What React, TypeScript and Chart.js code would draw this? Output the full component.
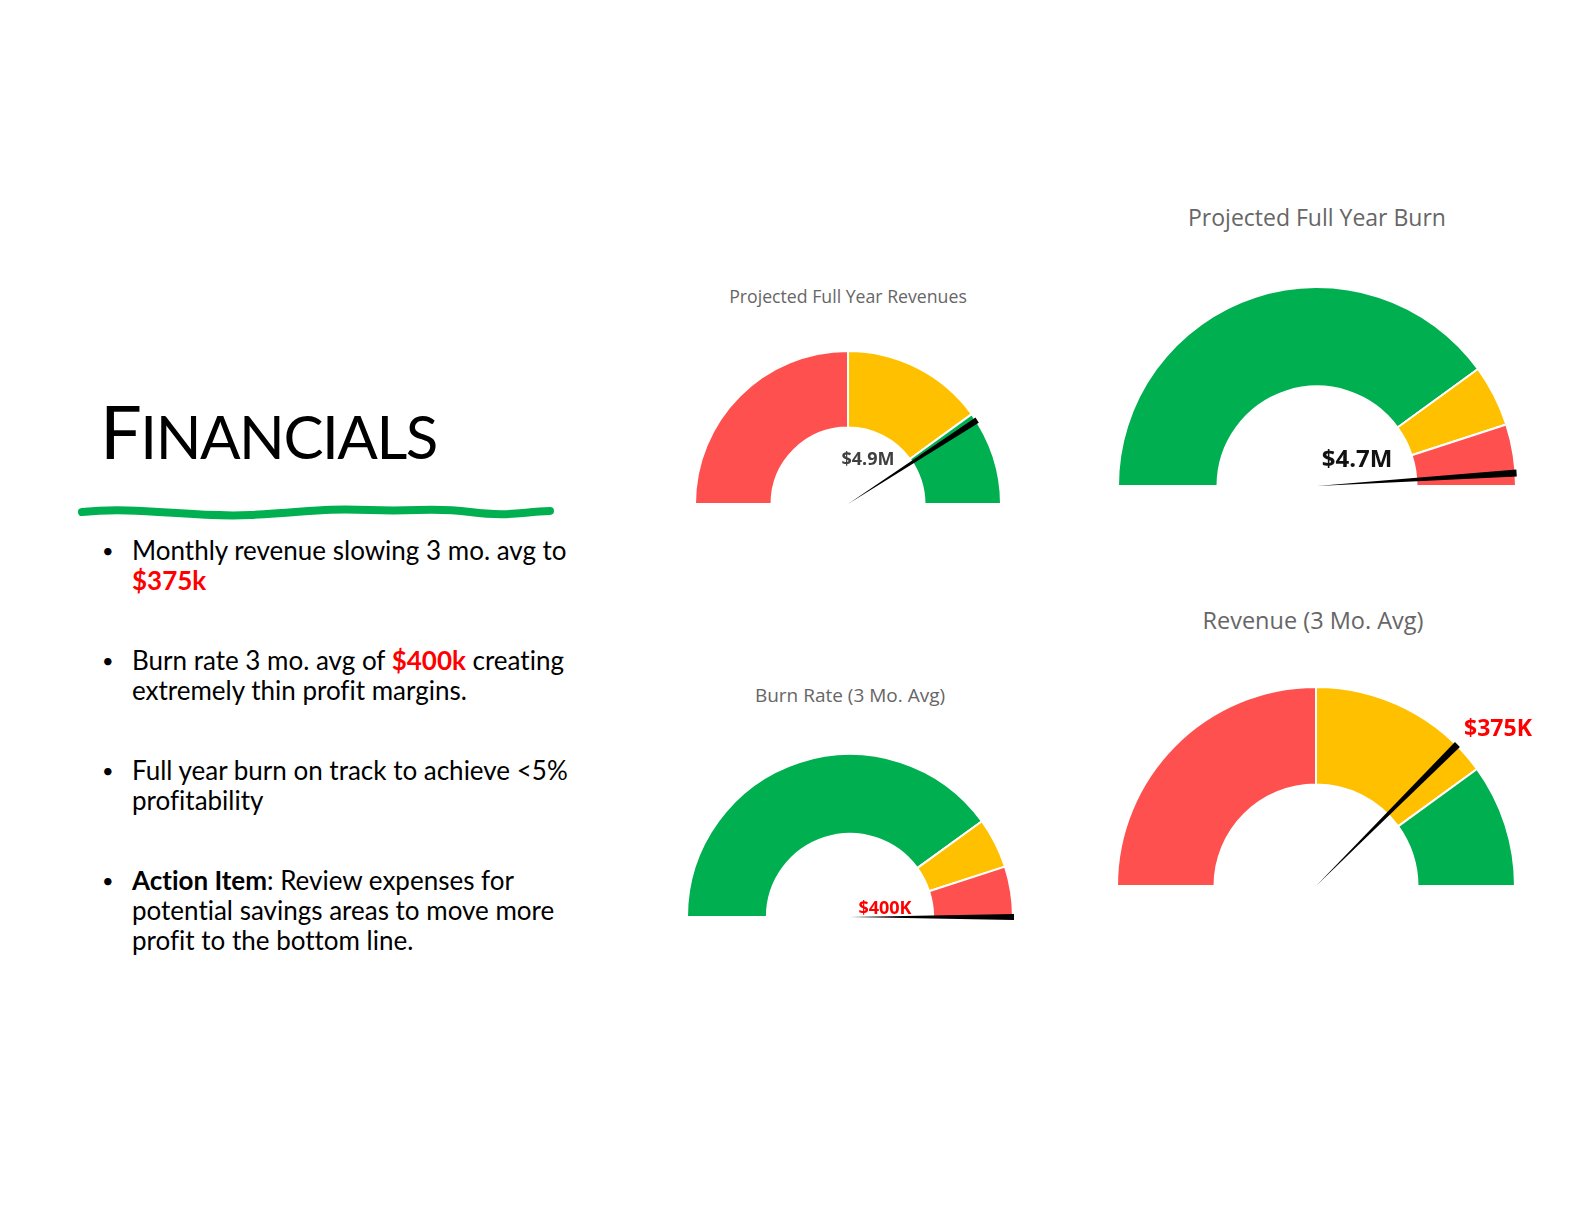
import React, { useEffect, useRef } from "react";
import { Chart, registerables } from "chart.js";

Chart.register(...registerables);

// ---------- data ----------
const gaugeTitles = [
  "Projected Full Year Revenues",
  "Projected Full Year Burn",
  "Burn Rate (3 Mo. Avg)",
  "Revenue (3 Mo. Avg)",
];
// band widths (in each gauge's units), listed left -> right
const revFullYearBands = [3.0, 1.8, 1.2]; // $M: red, yellow, green
const burnFullYearBands = [3.84, 0.48, 0.48]; // $M: green, yellow, red
const burnRateBands = [320, 40, 40]; // $K: green, yellow, red
const revenueAvgBands = [250, 150, 100]; // $K: red, yellow, green
const revBandNames = ["Below target", "Near target", "On target"];
const burnBandNames = ["On target", "Near limit", "Over limit"];
const needleValues = [4.9, 4.7, 400, 375];
const valueLabels = ["$4.9M", "$4.7M", "$400K", "$375K"];

const RED = "#FF5050";
const YELLOW = "#FFC000";
const GREEN = "#00B050";

// ---------- needle plugin ----------
const needlePlugin = {
  id: "needle",
  afterDatasetsDraw(chart: any) {
    const cfg = chart.options.plugins.needle;
    if (!cfg) return;
    const meta = chart.getDatasetMeta(0);
    const arc = meta.data[0];
    const { x, y, outerRadius } = arc.getProps(["x", "y", "outerRadius"], true);
    const data = chart.data.datasets[0].data as number[];
    const total = data.reduce((a: number, b: number) => a + b, 0);
    const frac = cfg.value / total;
    const ang = Math.PI + frac * Math.PI;
    const len = outerRadius + 1;
    const ex = x + Math.cos(ang) * len;
    const ey = y + Math.sin(ang) * len;
    const px = -Math.sin(ang);
    const py = Math.cos(ang);
    const hw = cfg.width / 2;
    const ctx = chart.ctx;
    ctx.save();
    ctx.beginPath();
    ctx.moveTo(x, y);
    ctx.lineTo(ex + px * hw, ey + py * hw);
    ctx.lineTo(ex - px * hw, ey - py * hw);
    ctx.closePath();
    ctx.fillStyle = "#000";
    ctx.fill();
    ctx.font = `bold ${cfg.fontSize}px 'Open Sans', sans-serif`;
    ctx.fillStyle = cfg.color;
    ctx.textAlign = "center";
    ctx.textBaseline = "middle";
    ctx.fillText(cfg.label, x + cfg.dx, y + cfg.dy);
    ctx.restore();
  },
};

type GaugeProps = {
  title: string;
  bands: number[];
  names: string[];
  colors: string[];
  value: number;
  label: string;
  cx: number;
  cy: number;
  R: number;
  cutout: string;
  pad: { left: number; right: number; top: number; bottom: number };
  labelDx: number;
  labelDy: number;
  labelSize: number;
  labelColor: string;
  needleWidth: number;
  titleSize: number;
  titleBaseline: number;
  titleDx: number;
};

function Gauge(p: GaugeProps) {
  const ref = useRef<HTMLCanvasElement>(null);
  useEffect(() => {
    if (!ref.current) return;
    const chart = new Chart(ref.current, {
      type: "doughnut",
      data: {
        labels: p.names,
        datasets: [
          {
            data: p.bands,
            backgroundColor: p.colors,
            borderColor: "#ffffff",
            borderWidth: 2,
          },
        ],
      },
      options: {
        animation: false,
        responsive: true,
        maintainAspectRatio: false,
        rotation: -90,
        circumference: 180,
        cutout: p.cutout,
        events: [],
        layout: { padding: p.pad },
        plugins: {
          legend: { display: false },
          tooltip: { enabled: false },
          // @ts-ignore
          needle: {
            value: p.value,
            label: p.label,
            dx: p.labelDx,
            dy: p.labelDy,
            fontSize: p.labelSize,
            color: p.labelColor,
            width: p.needleWidth,
          },
        },
      } as any,
      plugins: [needlePlugin as any],
    });
    return () => chart.destroy();
  }, []);
  const w = 2 * p.R + 2 + p.pad.left + p.pad.right;
  const h = p.R + 2 + p.pad.top + p.pad.bottom;
  const left = p.cx - p.R - 1 - p.pad.left;
  const top = p.cy - p.R - 1 - p.pad.top;
  return (
    <>
      <div
        style={{
          position: "absolute",
          left: p.cx + p.titleDx - 300,
          width: 600,
          top: p.titleBaseline - 0.888 * p.titleSize,
          textAlign: "center",
          fontFamily: "'Open Sans', sans-serif",
          fontSize: p.titleSize,
          lineHeight: `${p.titleSize}px`,
          color: "#666666",
          whiteSpace: "nowrap",
        }}
      >
        {p.title}
      </div>
      <div style={{ position: "absolute", left, top, width: w, height: h }}>
        <canvas ref={ref} />
      </div>
    </>
  );
}

const bulletStyle: React.CSSProperties = {
  position: "absolute",
  left: 0,
  fontFamily: "Lato, sans-serif",
  fontSize: 26,
  lineHeight: "30px",
  color: "#000",
  whiteSpace: "nowrap",
  fontVariantLigatures: "none",
};

function Bullet({ top, children }: { top: number; children: React.ReactNode }) {
  return (
    <div style={{ ...bulletStyle, top }}>
      <span style={{ position: "absolute", left: 102, fontSize: 20 }}>•</span>
      <div style={{ position: "absolute", left: 132, top: 0 }}>{children}</div>
    </div>
  );
}

const red: React.CSSProperties = { color: "#FF0000", fontWeight: 700 };

export default function App() {
  return (
    <div
      style={{
        position: "absolute",
        left: 0,
        top: 0,
        width: 1584,
        height: 1224,
        background: "#ffffff",
        overflow: "hidden",
      }}
    >
      {/* Title */}
      <div
        style={{
          position: "absolute",
          left: 100,
          top: 460 - 0.887 * 74,
          fontFamily: "Lato, sans-serif",
          fontSize: 74,
          lineHeight: "74px",
          color: "#000",
          whiteSpace: "nowrap",
          letterSpacing: -1.5,
        }}
      >
        F<span style={{ fontSize: 60 }}>INANCIALS</span>
      </div>
      <svg
        style={{ position: "absolute", left: 0, top: 0 }}
        width={600}
        height={560}
      >
        <path
          d="M 82 512 C 140 506, 190 518, 250 515 S 320 508, 370 510 S 430 507, 470 512 S 520 512, 550 511"
          stroke="#00B050"
          strokeWidth={8}
          strokeLinecap="round"
          fill="none"
        />
      </svg>

      <Bullet top={535}>
        Monthly revenue slowing 3 mo. avg to
        <br />
        <span style={red}>$375k</span>
      </Bullet>
      <Bullet top={645}>
        Burn rate 3 mo. avg of <span style={red}>$400k</span> creating
        <br />
        extremely thin profit margins.
      </Bullet>
      <Bullet top={755}>
        Full year burn on track to achieve &lt;5%
        <br />
        profitability
      </Bullet>
      <Bullet top={865}>
        <b>Action Item</b>: Review expenses for
        <br />
        potential savings areas to move more
        <br />
        profit to the bottom line.
      </Bullet>

      <Gauge
        title={gaugeTitles[0]}
        bands={revFullYearBands}
        names={revBandNames}
        colors={[RED, YELLOW, GREEN]}
        value={needleValues[0]}
        label={valueLabels[0]}
        cx={848}
        cy={504}
        R={153}
        cutout="50%"
        pad={{ left: 10, right: 10, top: 10, bottom: 10 }}
        labelDx={20}
        labelDy={-44}
        labelSize={18}
        labelColor="#404040"
        needleWidth={6}
        titleSize={17.7}
        titleBaseline={304}
        titleDx={0}
      />
      <Gauge
        title={gaugeTitles[1]}
        bands={burnFullYearBands}
        names={burnBandNames}
        colors={[GREEN, YELLOW, RED]}
        value={needleValues[1]}
        label={valueLabels[1]}
        cx={1317}
        cy={486}
        R={199}
        cutout="50%"
        pad={{ left: 10, right: 12, top: 10, bottom: 10 }}
        labelDx={40}
        labelDy={-26}
        labelSize={24}
        labelColor="#111111"
        needleWidth={7}
        titleSize={23}
        titleBaseline={226}
        titleDx={0}
      />
      <Gauge
        title={gaugeTitles[2]}
        bands={burnRateBands}
        names={burnBandNames}
        colors={[GREEN, YELLOW, RED]}
        value={needleValues[2]}
        label={valueLabels[2]}
        cx={850}
        cy={917}
        R={163}
        cutout="51%"
        pad={{ left: 10, right: 12, top: 10, bottom: 10 }}
        labelDx={35}
        labelDy={-8}
        labelSize={18}
        labelColor="#FF0000"
        needleWidth={6}
        titleSize={19}
        titleBaseline={703}
        titleDx={0}
      />
      <Gauge
        title={gaugeTitles[3]}
        bands={revenueAvgBands}
        names={revBandNames}
        colors={[RED, YELLOW, GREEN]}
        value={needleValues[3]}
        label={valueLabels[3]}
        cx={1316}
        cy={886}
        R={199}
        cutout="51%"
        pad={{ left: 10, right: 40, top: 10, bottom: 10 }}
        labelDx={182}
        labelDy={-157}
        labelSize={23}
        labelColor="#FF0000"
        needleWidth={7}
        titleSize={23.5}
        titleBaseline={630}
        titleDx={-3}
      />
    </div>
  );
}
